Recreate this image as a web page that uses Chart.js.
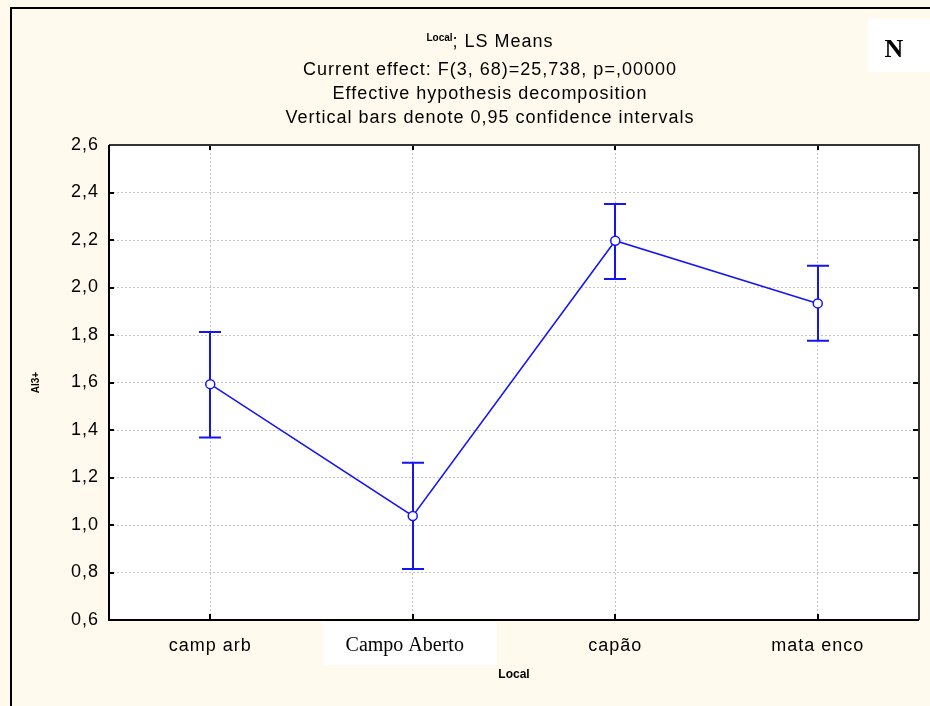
<!DOCTYPE html>
<html>
<head>
<meta charset="utf-8">
<script src="https://cdn.jsdelivr.net/npm/chart.js@4.4.1/dist/chart.umd.min.js"></script>
<style>
  html, body { margin: 0; padding: 0; background: #FFF9EE; }
  canvas { display: block; }
</style>
</head>
<body>
<canvas id="c" width="930" height="706"></canvas>
<script>
// LS means of Al3+ by site, with 0.95 confidence limits
const categories = ['camp arb', 'Campo Aberto', 'capão', 'mata enco'];
const means      = [1.593, 1.038, 2.197, 1.933];
const lowerCI    = [1.368, 0.815, 2.036, 1.776];
const upperCI    = [1.813, 1.262, 2.352, 2.092];
const yTickValues = [0.6, 0.8, 1.0, 1.2, 1.4, 1.6, 1.8, 2.0, 2.2, 2.4, 2.6];

const titleSuper = 'Local';
const titleMain = '; LS Means';
const subtitleLines = [
  'Current effect: F(3, 68)=25,738, p=,00000',
  'Effective hypothesis decomposition',
  'Vertical bars denote 0,95 confidence intervals'
];
const xAxisTitle = 'Local';
const yAxisTitle = 'Al3+';
const panelLetter = 'N';

const BLUE = '#1414F5';
const CREAM = '#FFF9EE';
const GRID = '#c4c4c4';
const SANS = '"Liberation Sans", Arial, sans-serif';
const SERIF = '"Liberation Serif", "Times New Roman", serif';

const fmt = v => v.toFixed(1).replace('.', ',');

// Page background, outer frame and white plotting area
const backdrop = {
  id: 'backdrop',
  beforeDraw(chart) {
    const { ctx, chartArea: a, width, height } = chart;
    ctx.save();
    ctx.letterSpacing = '0px';
    ctx.fillStyle = CREAM;
    ctx.fillRect(0, 0, width, height);
    ctx.fillStyle = '#000';
    ctx.fillRect(10, 7, width - 10, 2);
    ctx.fillRect(10, 7, 2, height - 7);
    ctx.fillStyle = '#fff';
    ctx.fillRect(a.left, a.top, a.right - a.left, a.bottom - a.top);
    ctx.restore();
    // wider tracking for the Chart.js tick labels
    ctx.letterSpacing = '1px';
  }
};

// Confidence-interval whiskers, drawn beneath the line and markers
const errorBars = {
  id: 'errorBars',
  beforeDatasetsDraw(chart) {
    const { ctx, scales: { x, y } } = chart;
    ctx.save();
    ctx.strokeStyle = BLUE;
    ctx.lineWidth = 2;
    const cap = 11;
    categories.forEach((c, i) => {
      const px = Math.round(x.getPixelForValue(i));
      const top = y.getPixelForValue(upperCI[i]);
      const bot = y.getPixelForValue(lowerCI[i]);
      ctx.beginPath();
      ctx.moveTo(px, top); ctx.lineTo(px, bot);
      ctx.moveTo(px - cap, top); ctx.lineTo(px + cap, top);
      ctx.moveTo(px - cap, bot); ctx.lineTo(px + cap, bot);
      ctx.stroke();
    });
    ctx.restore();
  }
};

// Plot frame, inner tick marks, titles and label boxes
const decorations = {
  id: 'decorations',
  afterDraw(chart) {
    const { ctx, chartArea: a, scales: { x, y } } = chart;
    ctx.save();
    ctx.letterSpacing = '0px';

    // inner ticks
    ctx.strokeStyle = '#000';
    ctx.lineWidth = 2;
    ctx.beginPath();
    yTickValues.forEach(v => {
      const py = Math.round(y.getPixelForValue(v));
      ctx.moveTo(a.left, py); ctx.lineTo(a.left + 5, py);
      ctx.moveTo(a.right, py); ctx.lineTo(a.right - 6, py);
    });
    categories.forEach((c, i) => {
      const px = Math.round(x.getPixelForValue(i));
      ctx.moveTo(px, a.bottom); ctx.lineTo(px, a.bottom - 6);
      ctx.moveTo(px, a.top); ctx.lineTo(px, a.top + 5);
    });
    ctx.stroke();

    // frame: dark grey top/right, black left/bottom
    ctx.lineWidth = 2;
    ctx.strokeStyle = '#333';
    ctx.beginPath();
    ctx.moveTo(a.left, a.top); ctx.lineTo(a.right, a.top); ctx.lineTo(a.right, a.bottom);
    ctx.stroke();
    ctx.strokeStyle = '#000';
    ctx.beginPath();
    ctx.moveTo(a.left, a.top); ctx.lineTo(a.left, a.bottom); ctx.lineTo(a.right, a.bottom);
    ctx.stroke();

    // titles
    const cx = 490;
    ctx.fillStyle = '#000';
    ctx.textBaseline = 'alphabetic';
    ctx.textAlign = 'left';
    ctx.font = 'bold 10px ' + SANS;
    ctx.letterSpacing = '0px';
    const wSup = ctx.measureText(titleSuper).width;
    ctx.font = '18px ' + SANS;
    ctx.letterSpacing = '1px';
    const wMain = ctx.measureText(titleMain).width;
    const start = cx - (wSup + wMain) / 2;
    ctx.fillText(titleMain, start + wSup, 47);
    ctx.font = 'bold 10px ' + SANS;
    ctx.letterSpacing = '0px';
    ctx.fillText(titleSuper, start, 41);

    ctx.textAlign = 'center';
    ctx.font = '18px ' + SANS;
    ctx.letterSpacing = '1px';
    const baselines = [75, 99, 123];
    subtitleLines.forEach((t, i) => ctx.fillText(t, cx, baselines[i]));

    // axis titles
    ctx.letterSpacing = '0px';
    ctx.font = 'bold 12px ' + SANS;
    ctx.textBaseline = 'middle';
    ctx.fillText(xAxisTitle, (a.left + a.right) / 2, 675);
    ctx.save();
    ctx.translate(36, (a.top + a.bottom) / 2);
    ctx.rotate(-Math.PI / 2);
    ctx.font = 'bold 10px ' + SANS;
    ctx.fillText(yAxisTitle, 0, 0);
    ctx.restore();

    // serif label on a white box for the second category
    const px1 = x.getPixelForValue(1);
    ctx.fillStyle = '#fff';
    ctx.fillRect(px1 - 90, a.bottom + 2, 174, 43);
    ctx.fillStyle = '#000';
    ctx.font = '20px ' + SERIF;
    ctx.textAlign = 'center';
    ctx.textBaseline = 'alphabetic';
    ctx.fillText(categories[1], px1 - 8, 651);

    // panel letter box
    ctx.fillStyle = '#fff';
    ctx.fillRect(868, 19, 62, 53);
    ctx.fillStyle = '#000';
    ctx.font = 'bold 26px ' + SERIF;
    ctx.fillText(panelLetter, 894, 57);

    ctx.restore();
  }
};

new Chart(document.getElementById('c'), {
  type: 'line',
  data: {
    labels: categories,
    datasets: [{
      data: means,
      borderColor: BLUE,
      borderWidth: 1.5,
      pointRadius: 4.5,
      pointBorderWidth: 1.5,
      pointBackgroundColor: '#fff',
      pointBorderColor: BLUE,
      tension: 0,
      fill: false
    }]
  },
  options: {
    responsive: false,
    animation: false,
    devicePixelRatio: 1,
    layout: { padding: { left: 0, top: 145, right: 11, bottom: 0 } },
    plugins: {
      legend: { display: false },
      tooltip: { enabled: false },
      title: { display: false }
    },
    scales: {
      x: {
        type: 'category',
        offset: true,
        border: { display: false, dash: [2, 2] },
        grid: {
          offset: false,
          drawTicks: false,
          color: GRID,
          lineWidth: 1
        },
        ticks: {
          padding: 15,
          color: ctx => ctx.index === 1 ? 'rgba(0,0,0,0)' : '#000',
          font: { family: SANS, size: 18 }
        },
        afterFit(scale) { scale.height = 86; }
      },
      y: {
        min: 0.6,
        max: 2.6,
        border: { display: false, dash: [2, 2] },
        grid: {
          drawTicks: false,
          color: GRID,
          lineWidth: 1
        },
        afterBuildTicks(scale) { scale.ticks = yTickValues.map(v => ({ value: v })); },
        ticks: {
          padding: 10,
          color: '#000',
          font: { family: SANS, size: 18 },
          callback: v => fmt(v)
        },
        afterFit(scale) { scale.width = 109; }
      }
    }
  },
  plugins: [backdrop, errorBars, decorations]
});
</script>
</body>
</html>
